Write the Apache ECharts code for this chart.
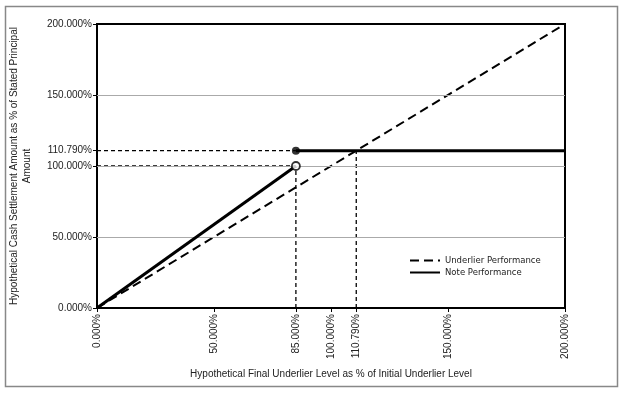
<!DOCTYPE html>
<html>
<head>
<meta charset="utf-8">
<script src="https://cdn.jsdelivr.net/npm/echarts@6/dist/echarts.min.js"></script>
<style>
  html, body { margin: 0; padding: 0; background: #fff; }
  #chart { width: 624px; height: 398px; }
</style>
</head>
<body>
<div id="chart"></div>
<script>
const xTicks = [0, 50, 85, 100, 110.79, 150, 200];
const yTicks = [0, 50, 100, 110.79, 150, 200];
const gridValues = [50, 100, 150];

const underlier = [[0, 0], [200, 200]];
const noteLow = [[0, 0], [85, 100]];
const noteHigh = [[85, 110.79], [200, 110.79]];

// dashed guide lines
const guides = [
  [[0, 110.79], [85, 110.79]],
  [[0, 100], [85, 100]],
  [[85, 0], [85, 100]],
  [[110.79, 0], [110.79, 110.79]]
];
const openPoint = [[85, 100]];
const closedPoint = [[85, 110.79]];

const fmt = v => v.toFixed(3) + '%';
const labelFont = { fontFamily: 'Liberation Sans', fontSize: 10, color: '#222' };

const chart = echarts.init(document.getElementById('chart'), null, { renderer: 'canvas' });

const guideSeries = guides.map(g => ({
  type: 'line',
  data: g,
  symbol: 'none',
  silent: true,
  z: 3,
  lineStyle: { color: '#000', width: 1.3, type: [4, 3] }
}));

const option = {
  animation: false,
  backgroundColor: '#fff',
  graphic: [{
    type: 'rect',
    shape: { x: 5.5, y: 6.5, width: 612, height: 380 },
    style: { fill: 'none', stroke: '#888', lineWidth: 1.5 },
    z: -1
  }],
  grid: {
    left: 97, right: 59, top: 24, bottom: 90,
    outerBoundsMode: 'none',
    containLabel: false,
    show: true, borderColor: '#000', borderWidth: 2
  },
  legend: {
    orient: 'vertical',
    left: 404, top: 251,
    itemWidth: 30, itemHeight: 8, itemGap: 3,
    data: ['Underlier Performance', 'Note Performance'],
    itemStyle: { opacity: 0 },
    textStyle: { fontFamily: 'DejaVu Sans', fontSize: 8.5, color: '#222' }
  },
  xAxis: {
    type: 'value', min: 0, max: 200,
    name: 'Hypothetical Final Underlier Level as % of Initial Underlier Level',
    nameLocation: 'middle', nameGap: 61,
    nameTextStyle: labelFont,
    axisLine: { lineStyle: { color: '#000', width: 2 } },
    axisTick: { show: true, customValues: xTicks, length: 4, lineStyle: { color: '#000' } },
    axisLabel: Object.assign({ customValues: xTicks, rotate: 90, formatter: fmt, margin: 6 }, labelFont),
    splitLine: { show: false }
  },
  yAxis: {
    type: 'value', min: 0, max: 200,
    name: 'Hypothetical Cash Settlement Amount as % of Stated Principal\nAmount',
    nameLocation: 'middle', nameGap: 63,
    nameTextStyle: Object.assign({ lineHeight: 13, align: 'center' }, labelFont),
    axisLine: { lineStyle: { color: '#000', width: 2 } },
    axisTick: { show: true, customValues: yTicks, length: 4, lineStyle: { color: '#000' } },
    axisLabel: Object.assign({ customValues: yTicks, formatter: fmt, margin: 5 }, labelFont),
    splitLine: { show: false }
  },
  series: [
    {
      type: 'line', data: [], silent: true,
      markLine: {
        symbol: 'none', silent: true, label: { show: false },
        lineStyle: { color: '#aaa', width: 1, type: 'solid' },
        data: gridValues.map(v => ({ yAxis: v }))
      },
      z: 1
    },
    ...guideSeries,
    {
      name: 'Underlier Performance', type: 'line', data: underlier,
      symbol: 'none', z: 4,
      itemStyle: { color: '#000' },
      lineStyle: { color: '#000', width: 2, type: [9, 5] }
    },
    {
      name: 'Note Performance', type: 'line', data: noteLow,
      symbol: 'none', z: 5,
      itemStyle: { color: '#000' },
      lineStyle: { color: '#000', width: 3 }
    },
    {
      name: 'Note Performance', type: 'line', data: noteHigh,
      symbol: 'none', z: 5,
      itemStyle: { color: '#000' },
      lineStyle: { color: '#000', width: 3 }
    },
    {
      type: 'scatter', data: openPoint, symbol: 'circle', symbolSize: 8, z: 6,
      itemStyle: { color: '#fff', borderColor: '#000', borderWidth: 1.8 }
    },
    {
      type: 'scatter', data: closedPoint, symbol: 'circle', symbolSize: 8, z: 6,
      itemStyle: { color: '#000' }
    }
  ]
};

chart.setOption(option);
</script>
</body>
</html>
